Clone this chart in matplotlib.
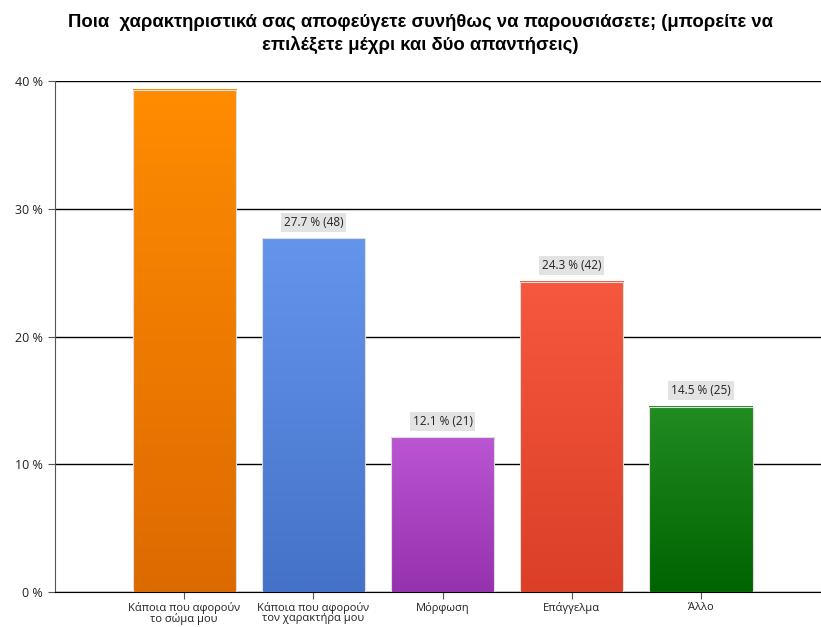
import matplotlib
matplotlib.use("Agg")
import matplotlib.pyplot as plt
import numpy as np
from matplotlib.colors import LinearSegmentedColormap

categories = ["Κάποια που αφορούν\nτο σώμα μου", "Κάποια που αφορούν\nτον χαρακτήρα μου",
              "Μόρφωση", "Επάγγελμα", "Άλλο"]
percents = [39.3, 27.7, 12.1, 24.3, 14.5]
counts = [68, 48, 21, 42, 25]
top_colors = ["#FF8C00", "#6495ED", "#BA55D3", "#F5583D", "#228B22"]
bottom_colors = ["#DD6A00", "#4472C8", "#9632AE", "#DB3F27", "#006400"]
yticks = [0, 10, 20, 30, 40]
title = "Ποια  χαρακτηριστικά σας αποφεύγετε συνήθως να παρουσιάσετε; (μπορείτε να\nεπιλέξετε μέχρι και δύο απαντήσεις)"

plt.rcParams['font.family'] = ['Open Sans', 'DejaVu Sans']

fig = plt.figure(figsize=(8.21, 6.27), dpi=100)
ax = fig.add_axes([55/821, 1-592/627, 1-55/821, (592-81)/627])

x = np.arange(len(categories))
width = 0.8
bars = ax.bar(x, percents, width=width, color="none", edgecolor="#DDDDDD", linewidth=0.8, zorder=3)
for b, tc, bc in zip(bars, top_colors, bottom_colors):
    cmap = LinearSegmentedColormap.from_list("g", [bc, tc])
    grad = np.linspace(0, 1, 256).reshape(-1, 1)
    x0 = b.get_x(); h = b.get_height()
    ax.imshow(grad, cmap=cmap, origin="lower", aspect="auto",
              extent=(x0, x0 + b.get_width(), 0, h), zorder=2)

for xi, p, c in zip(x, percents, counts):
    if p < 37:
        ax.annotate(f"{p:.1f} % ({c})", (xi, p), xytext=(0, 16), textcoords="offset pixels",
                    ha="center", va="center", fontsize=8.5, color="#222222",
                    fontfamily=["Open Sans", "DejaVu Sans"],
                    bbox=dict(boxstyle="square,pad=0.25", fc="#E3E3E3", ec="none"), zorder=4)

ax.set_xlim(-1.0, 4.93)
ax.set_ylim(0, 40)
ax.set_yticks(yticks)
ax.set_yticklabels([f"{t} %" for t in yticks], fontsize=9)
ax.set_xticks(x)
ax.set_xticklabels(categories, fontsize=8, linespacing=0.95)
ax.yaxis.grid(True, color="black", linewidth=1.0, zorder=1)
ax.set_axisbelow(True)
for s in ["top", "right"]:
    ax.spines[s].set_visible(False)
ax.spines["left"].set_color("#555555")
ax.spines["bottom"].set_color("black")
ax.tick_params(axis="both", length=5, color="#555555", labelcolor="#222222")
ax.tick_params(axis="x", pad=2)

fig.text(0.512, 1-34/627, title, ha="center", va="center", fontsize=13.3, fontweight="bold",
         linespacing=1.3, fontfamily=["Liberation Sans", "DejaVu Sans"])

fig.savefig("out.png", dpi=100)
